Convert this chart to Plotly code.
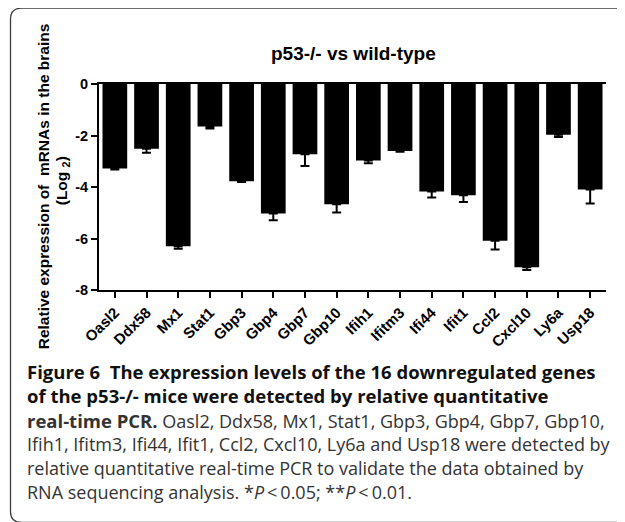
import plotly.graph_objects as go

# ---- data ----
genes = ["Oasl2", "Ddx58", "Mx1", "Stat1", "Gbp3", "Gbp4", "Gbp7", "Gbp10",
         "Ifih1", "Ifitm3", "Ifi44", "Ifit1", "Ccl2", "Cxcl10", "Ly6a", "Usp18"]
log2_expr = [-3.28, -2.51, -6.30, -1.65, -3.78, -5.03, -2.73, -4.67,
             -2.97, -2.60, -4.17, -4.32, -6.09, -7.12, -1.97, -4.10]
sem = [0.04, 0.16, 0.10, 0.08, 0.03, 0.26, 0.45, 0.32,
       0.11, 0.03, 0.24, 0.26, 0.34, 0.10, 0.09, 0.54]
y_ticks = [0, -2, -4, -6, -8]
y_tick_labels = ["0", "-2", "-4", "-6", "-8"]

chart_title = "p53-/- vs wild-type"
y_title_1 = "Relative expression of\u00a0 mRNAs in the brains"
y_title_2 = "(Log <sub>2</sub>)"
BOLD_SPAN = '<span style="font-size:18.5px"><b>{}</b></span>'
caption_lines = [
    (BOLD_SPAN.format("Figure 6\u00a0 The expression levels of the 16 downregulated genes"), True),
    (BOLD_SPAN.format("of the p53-/- mice were detected by relative quantitative"), True),
    (BOLD_SPAN.format("real-time PCR.") + " Oasl2, Ddx58, Mx1, Stat1, Gbp3, Gbp4, Gbp7, Gbp10,", False),
    ("Ifih1, Ifitm3, Ifi44, Ifit1, Ccl2, Cxcl10, Ly6a and Usp18 were detected by", False),
    ("relative quantitative real-time PCR to validate the data obtained by", False),
    ("RNA sequencing analysis. *<i>P</i>\u2009&lt;\u20090.05; **<i>P</i>\u2009&lt;\u20090.01.", False),
]

# ---- layout geometry (pixels, in window coordinates) ----
OFF = 8                      # page body margin
W, H = 625 - OFF, 522 - OFF  # figure size
L, R, T, B = 99, 606, 83.5, 290


def px2x(px):
    return (px - L) / (R - L)


def py2y(py):
    return (B - py) / (B - T)


AX_FONT = "Liberation Sans, Arial, sans-serif"
CAP_FONT = "Open Sans, Noto Sans, sans-serif"

fig = go.Figure()
fig.add_trace(go.Bar(
    x=genes, y=log2_expr, width=0.78,
    marker=dict(color="black", line=dict(width=0)),
    error_y=dict(type="data", symmetric=False, array=[0] * len(sem), arrayminus=sem,
                 color="black", thickness=2, width=4.5),
))

annotations = [
    dict(text=chart_title, x=px2x(353), y=py2y(53), xref="paper", yref="paper",
         showarrow=False, xanchor="center", yanchor="middle",
         font=dict(family=AX_FONT, size=19, color="black", weight="bold")),
    dict(text=y_title_1, x=px2x(43), y=py2y(186), xref="paper", yref="paper",
         showarrow=False, xanchor="center", yanchor="middle", textangle=-90,
         font=dict(family=AX_FONT, size=15.5, color="black", weight="bold")),
    dict(text=y_title_2, x=px2x(62), y=py2y(181), xref="paper", yref="paper",
         showarrow=False, xanchor="center", yanchor="middle", textangle=-90,
         font=dict(family=AX_FONT, size=15.5, color="black", weight="bold")),
]
line_y = [372, 396, 420.5, 444.5, 468.5, 492.5]
for (txt, bold), yy in zip(caption_lines, line_y):
    annotations.append(dict(
        text=txt, x=px2x(25), y=py2y(yy), xref="paper", yref="paper",
        showarrow=False, xanchor="left", yanchor="middle",
        font=dict(family=CAP_FONT, size=18, color="#111111" if bold else "#333333")))

# rounded frame
bl, bt, br, bb, rr = 10.5, 7.5, 700, 523, 11
path = (f"M {px2x(br)},{py2y(bt)} H {px2x(bl + rr)} "
        f"Q {px2x(bl)},{py2y(bt)} {px2x(bl)},{py2y(bt + rr)} "
        f"V {py2y(bb - rr)} "
        f"Q {px2x(bl)},{py2y(bb)} {px2x(bl + rr)},{py2y(bb)} H {px2x(br)}")

fig.update_layout(
    width=W, height=H, template=None,
    paper_bgcolor="white", plot_bgcolor="white",
    margin=dict(l=L - OFF, r=625 - R, t=T - OFF, b=522 - B, pad=0),
    showlegend=False, bargap=0.2,
    annotations=annotations,
    shapes=[dict(type="path", path=path, xref="paper", yref="paper",
                 line=dict(color="#3c3c3c", width=1.3), layer="above")],
    xaxis=dict(type="category", range=[-0.5, len(genes) - 0.5], automargin=False,
               showline=True, linecolor="black", linewidth=2, mirror=True,
               ticks="outside", ticklen=6, tickwidth=2, tickcolor="black",
               tickangle=-45, showgrid=False, zeroline=False,
               tickfont=dict(family=AX_FONT, size=15, color="black", weight="bold")),
    yaxis=dict(range=[-8, 0], automargin=False, tickvals=y_ticks, ticktext=y_tick_labels,
               showline=True, linecolor="black", linewidth=2,
               ticks="outside", ticklen=6, tickwidth=2, tickcolor="black",
               showgrid=False, zeroline=False,
               tickfont=dict(family=AX_FONT, size=14.5, color="black", weight="bold")),
)

fig.write_html("out.html")
